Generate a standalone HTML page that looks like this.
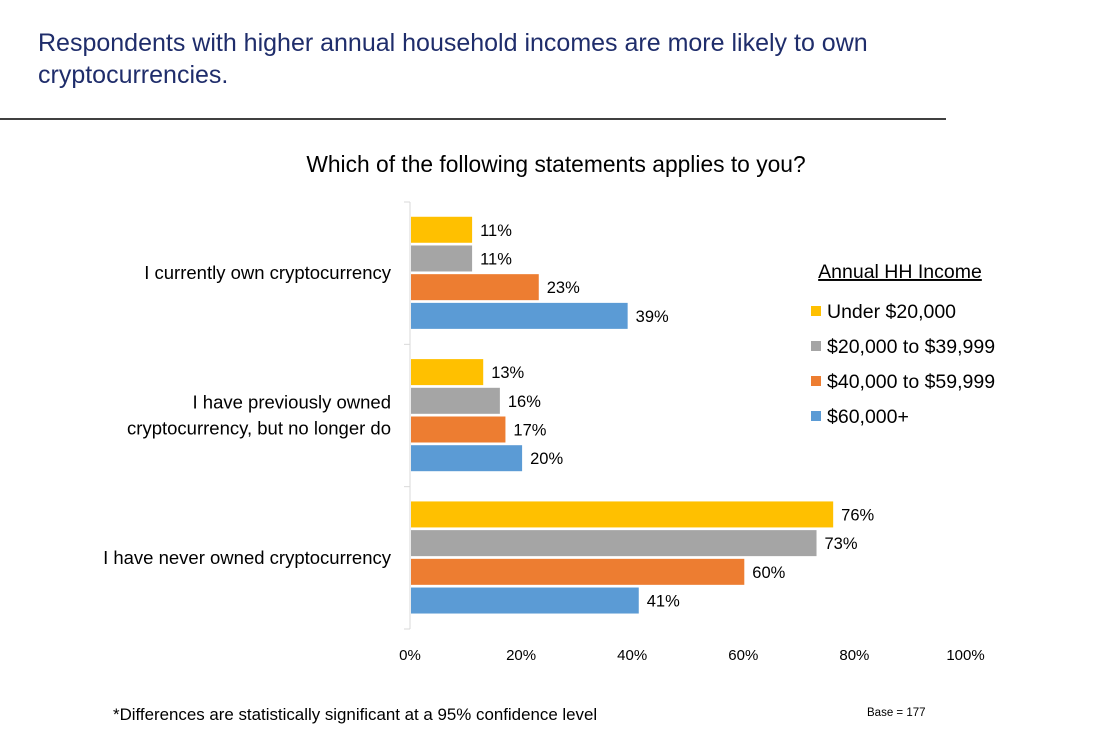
<!DOCTYPE html>
<html><head><meta charset="utf-8"><style>
body{margin:0;background:#fff;}
svg text{font-family:"Liberation Sans",Calibri,sans-serif;}
</style></head><body>
<svg width="1109" height="733">
<text x="38" y="51" font-size="25" fill="#1f2d6b">Respondents with higher annual household incomes are more likely to own</text>
<text x="38" y="83" font-size="25" fill="#1f2d6b">cryptocurrencies.</text>
<line x1="0" y1="119" x2="946" y2="119" stroke="#000" stroke-width="1.5"/>
<text x="556" y="172" font-size="22.8" text-anchor="middle" fill="#000">Which of the following statements applies to you?</text>
<g id="plot"></g>
<g>
<text x="900" y="278" font-size="19.5" text-anchor="middle" text-decoration="underline">Annual HH Income</text>
</g>
<text x="113" y="720" font-size="16.9">*Differences are statistically significant at a 95% confidence level</text>
<text x="867" y="716" font-size="11.5">Base = 177</text>
</svg>
<script>
const categories=[["I currently own cryptocurrency"],["I have previously owned","cryptocurrency, but no longer do"],["I have never owned cryptocurrency"]];
const seriesNames=["Under $20,000","$20,000 to $39,999","$40,000 to $59,999","$60,000+"];
const colors=["#ffc000","#a5a5a5","#ed7d31","#5b9bd5"];
const under20=[11,13,76];
const from20to40=[11,16,73];
const from40to60=[23,17,60];
const over60=[39,20,41];
const ticks=[0,20,40,60,80,100];
const series=[under20,from20to40,from40to60,over60];
const NS="http://www.w3.org/2000/svg";
const g=document.getElementById('plot');
const x0=410,x1=965.5,yTop=202,yBot=629;
const xs=v=>x0+(x1-x0)*v/100;
const band=(yBot-yTop)/categories.length;
const barH=26,step=28.7;
function mk(t,a){const e=document.createElementNS(NS,t);for(const k in a)e.setAttribute(k,a[k]);g.appendChild(e);return e;}
let ax=mk('line',{x1:x0,y1:yTop,x2:x0,y2:yBot,stroke:'#d9d9d9','stroke-width':1});


for(let i=0;i<=categories.length;i++){const y=yTop+band*i;
 const t=mk('line',{x1:x0-6,y1:y,x2:x0,y2:y,stroke:'#d9d9d9'});
 
 }
ticks.forEach(v=>{const t=mk('text',{x:xs(v),y:660,'font-size':15,'text-anchor':'middle'});t.textContent=v+'%';
 
 });
categories.forEach((lines,ci)=>{
 const c=yTop+band*ci+band/2;
 lines.forEach((l,li)=>{const t=mk('text',{x:391,y:c+6+(li-(lines.length-1)/2)*26,'font-size':18.5,'text-anchor':'end'});t.textContent=l;
  
  });
 series.forEach((s,si)=>{
  const y=c-(series.length*step)/2+si*step+1;
  const r=mk('rect',{x:x0+1,y:y,width:xs(s[ci])-x0,height:barH,fill:colors[si]});
  
  
  const t=mk('text',{x:xs(s[ci])+9,y:y+barH/2+6,'font-size':16.5});t.textContent=s[ci]+'%';
  
  
 });
});
seriesNames.forEach((n,i)=>{const y=318+i*35;
 const r=mk('rect',{x:811,y:y-12,width:10,height:10,fill:colors[i]});
 
 
 const t=mk('text',{x:827,y:y,'font-size':19.5});t.textContent=n;
 
 
});
</script>
</body></html>
